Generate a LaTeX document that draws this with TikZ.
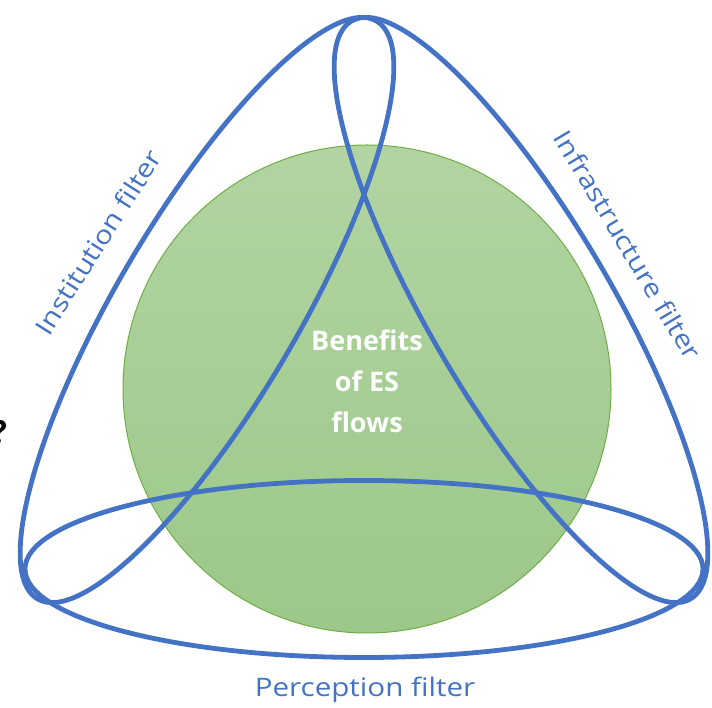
\documentclass[tikz,border=0pt]{standalone}
\usepackage{fontspec}
\setmainfont{Open Sans}
\usepackage{graphicx}
\definecolor{fblue}{HTML}{4472C4}
\definecolor{gtop}{HTML}{B2D4A1}
\definecolor{gbot}{HTML}{9CC889}
\definecolor{gedge}{HTML}{70AD47}
\begin{document}
\begin{tikzpicture}[x=1pt,y=1pt,
  filter/.style={draw=fblue, line width=4.8pt},
  lbl/.style={text=fblue, font=\fontsize{25.5}{30}\selectfont, inner sep=0pt}]
\useasboundingbox (0,0) rectangle (712,707);
\node[circle, minimum size=488pt, inner sep=0pt, draw=gedge, line width=1pt,
      top color=gtop, bottom color=gbot] (es) at (367,318) {};
\node[text=white, font=\fontsize{27}{41}\selectfont\bfseries, align=center] (ben) at (367,326) {Benefits\\of ES\\flows};
\draw[filter, rotate around={59.6:(207,397)}] (207,397) ellipse [x radius=335pt, y radius=91pt];
\draw[filter, rotate around={-59.6:(521,397)}] (521,397) ellipse [x radius=335pt, y radius=91pt];
\draw[filter] (364,138) ellipse [x radius=339pt, y radius=88.5pt];
\node[lbl, rotate=57.7] (inst) at (98,465) {\scalebox{1.16}[1]{Institution filter}};
\node[lbl, rotate=-59.2] (infra) at (628,462) {\scalebox{1.16}[1]{Infrastructure filter}};
\node[lbl] (perc) at (365,17) {\scalebox{1.16}[1]{Perception filter}};
\node[font=\fontsize{32}{36}\selectfont\bfseries, anchor=east, inner sep=0pt] (q) at (7,275) {?};
\end{tikzpicture}
\end{document}
